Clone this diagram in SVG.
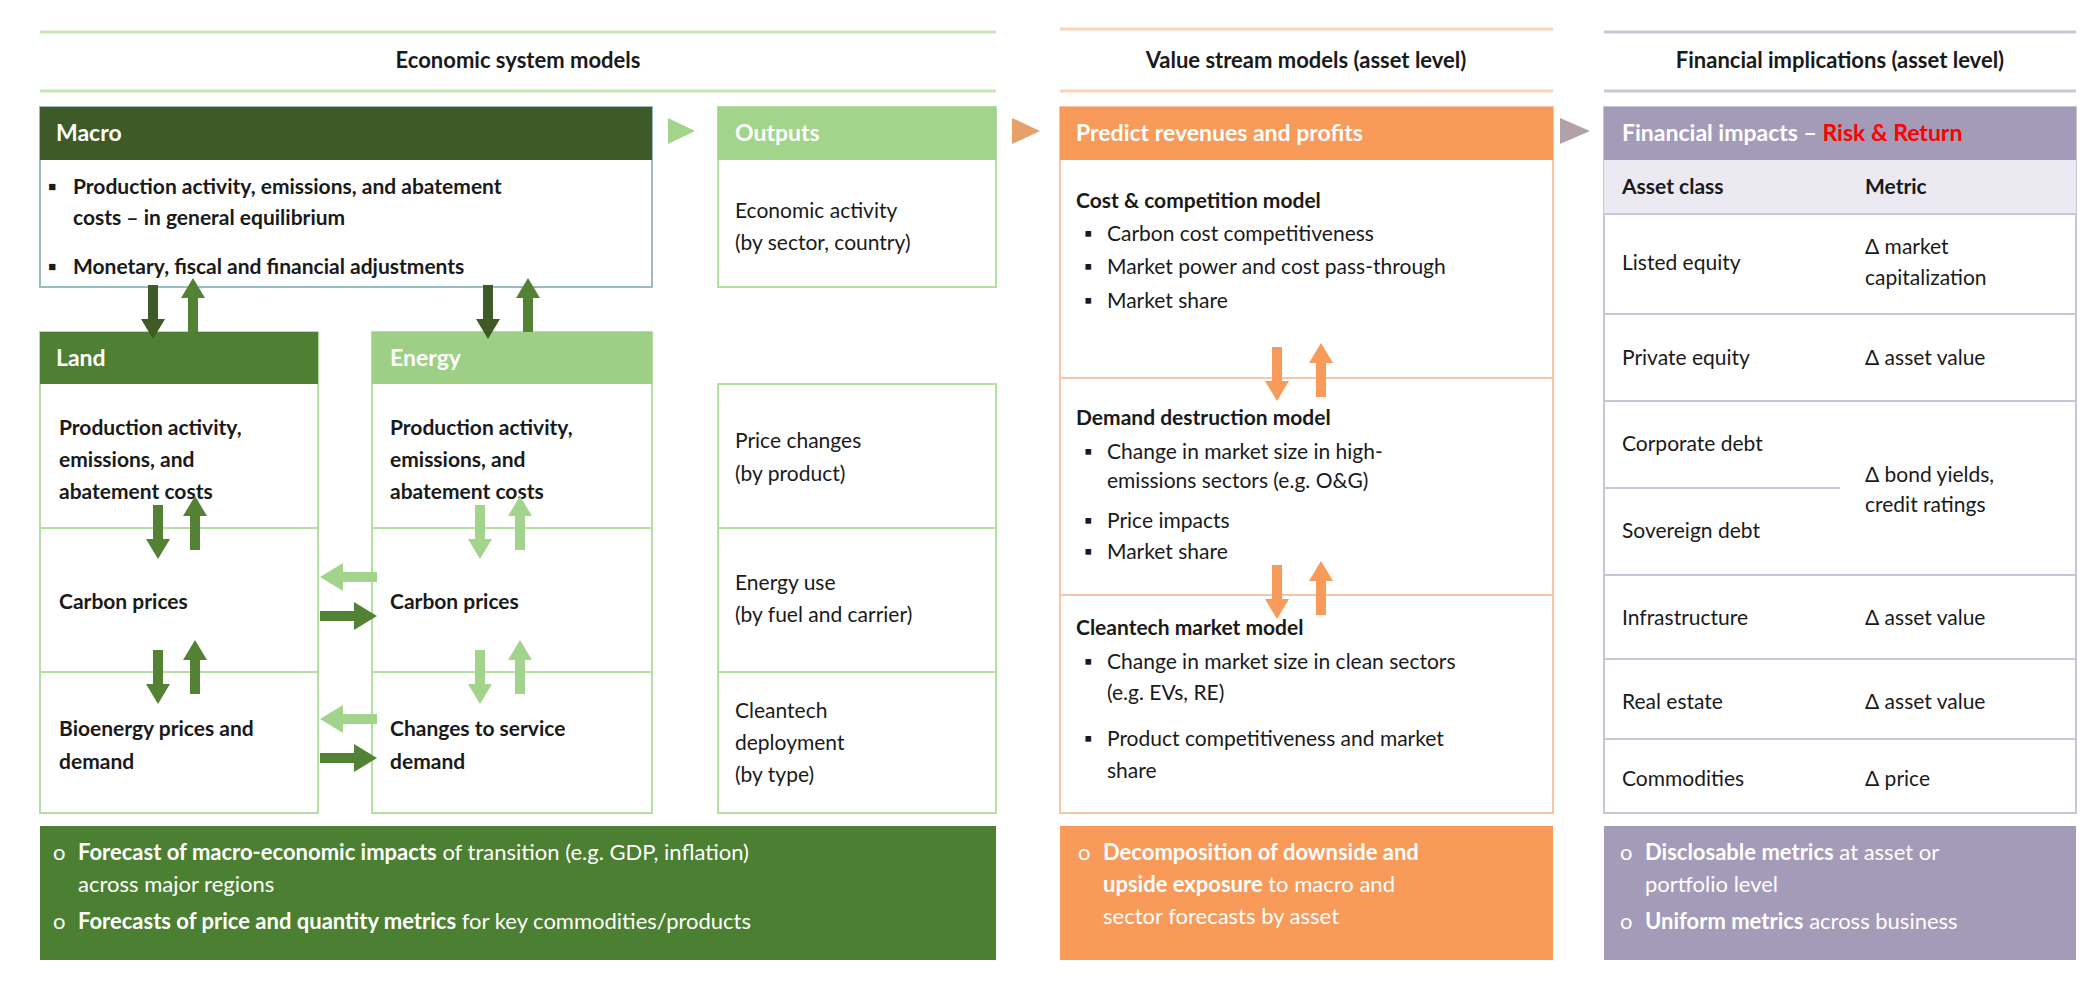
<svg xmlns="http://www.w3.org/2000/svg" width="2097" height="996" viewBox="0 0 2097 996">
<style>
text{font-family:Lato,"Open Sans",sans-serif;font-size:21px;fill:#1a1a1a}
.b{font-weight:bold}
.h{font-weight:bold;font-size:23px;fill:#fff}
.t{font-weight:bold;font-size:22px}
.w{fill:#fff;font-size:22px}
.lg{fill:none;stroke:#b5dea3;stroke-width:2}
.lo{fill:none;stroke:#f9c6a5;stroke-width:2}
.lp{fill:none;stroke:#c9c5d8;stroke-width:2}
</style>
<defs>
<path id="ad" d="M-5,0 H5 V34 H12 L0,54 L-12,34 H-5 Z"/>
<path id="au" d="M-5,54 H5 V20 H12 L0,0 L-12,20 H-5 Z"/>
<path id="ar" d="M0,-5 V5 H34 V14 L57,0 L34,-14 V-5 Z"/>
<path id="al" d="M57,-5 V5 H23 V14 L0,0 L23,-14 V-5 Z"/>
</defs>
<rect width="2097" height="996" fill="#fff"/>
<g id="headers">
<line x1="40" y1="32" x2="996" y2="32" stroke="#c5e6b6" stroke-width="3"/>
<line x1="40" y1="91" x2="996" y2="91" stroke="#c5e6b6" stroke-width="3"/>
<text x="518" y="68" class="t" text-anchor="middle">Economic system models</text>
<line x1="1060" y1="29" x2="1553" y2="29" stroke="#fbd3b8" stroke-width="3"/>
<line x1="1060" y1="91" x2="1553" y2="91" stroke="#fbd3b8" stroke-width="3"/>
<text x="1306" y="68" class="t" text-anchor="middle">Value stream models (asset level)</text>
<line x1="1604" y1="32" x2="2076" y2="32" stroke="#cbc7da" stroke-width="3"/>
<line x1="1604" y1="91" x2="2076" y2="91" stroke="#cbc7da" stroke-width="3"/>
<text x="1840" y="68" class="t" text-anchor="middle">Financial implications (asset level)</text>
</g>
<g id="macro">
<rect x="40" y="107" width="612" height="180" fill="#fff" stroke="#9bbcbf" stroke-width="2"/>
<rect x="40" y="107" width="612" height="53" fill="#3d5a27"/>
<text x="56" y="141" class="h">Macro</text>
<text x="48" y="194" class="b" font-size="15">▪</text>
<text x="73" y="194" class="b">Production activity, emissions, and abatement</text>
<text x="73" y="225" class="b">costs – in general equilibrium</text>
<text x="48" y="274" class="b" font-size="15">▪</text>
<text x="73" y="274" class="b">Monetary, fiscal and financial adjustments</text>
</g>
<g id="outputs">
<rect x="718" y="107" width="278" height="180" class="lg"/>
<rect x="718" y="107" width="278" height="53" fill="#a3d48c"/>
<text x="735" y="141" class="h">Outputs</text>
<text x="735" y="218">Economic activity</text>
<text x="735" y="250">(by sector, country)</text>
<rect x="718" y="384" width="278" height="429" class="lg"/>
<line x1="718" y1="528" x2="996" y2="528" class="lg"/>
<line x1="718" y1="672" x2="996" y2="672" class="lg"/>
<text x="735" y="448">Price changes</text>
<text x="735" y="481">(by product)</text>
<text x="735" y="590">Energy use</text>
<text x="735" y="622">(by fuel and carrier)</text>
<text x="735" y="718">Cleantech</text>
<text x="735" y="750">deployment</text>
<text x="735" y="782">(by type)</text>
</g>
<g id="land">
<rect x="40" y="332" width="278" height="481" class="lg"/>
<rect x="40" y="332" width="278" height="52" fill="#4f7f32"/>
<text x="56" y="366" class="h">Land</text>
<line x1="40" y1="528" x2="318" y2="528" class="lg"/>
<line x1="40" y1="672" x2="318" y2="672" class="lg"/>
<text x="59" y="435" class="b">Production activity,</text>
<text x="59" y="467" class="b">emissions, and</text>
<text x="59" y="499" class="b">abatement costs</text>
<text x="59" y="609" class="b">Carbon prices</text>
<text x="59" y="736" class="b">Bioenergy prices and</text>
<text x="59" y="769" class="b">demand</text>
</g>
<g id="energy">
<rect x="372" y="332" width="280" height="481" class="lg"/>
<rect x="372" y="332" width="280" height="52" fill="#9dcf87"/>
<text x="390" y="366" class="h">Energy</text>
<line x1="372" y1="528" x2="652" y2="528" class="lg"/>
<line x1="372" y1="672" x2="652" y2="672" class="lg"/>
<text x="390" y="435" class="b">Production activity,</text>
<text x="390" y="467" class="b">emissions, and</text>
<text x="390" y="499" class="b">abatement costs</text>
<text x="390" y="609" class="b">Carbon prices</text>
<text x="390" y="736" class="b">Changes to service</text>
<text x="390" y="769" class="b">demand</text>
</g>
<g id="econ-summary">
<rect x="40" y="826" width="956" height="134" fill="#4b7f31"/>
<text x="53" y="860" class="w">o</text>
<text x="78" y="860" class="w"><tspan font-weight="bold">Forecast of macro-economic impacts</tspan> of transition (e.g. GDP, inflation)</text>
<text x="78" y="892" class="w">across major regions</text>
<text x="53" y="929" class="w">o</text>
<text x="78" y="929" class="w"><tspan font-weight="bold">Forecasts of price and quantity metrics</tspan> for key commodities/products</text>
</g>
<g id="value-stream">
<rect x="1060" y="107" width="493" height="706" class="lo"/>
<rect x="1060" y="107" width="493" height="53" fill="#f79a5a"/>
<text x="1076" y="141" class="h">Predict revenues and profits</text>
<line x1="1060" y1="378" x2="1553" y2="378" class="lo"/>
<line x1="1060" y1="595" x2="1553" y2="595" class="lo"/>
<text x="1076" y="208" class="b">Cost &amp; competition model</text>
<text x="1084" y="241">▪</text><text x="1107" y="241">Carbon cost competitiveness</text>
<text x="1084" y="274">▪</text><text x="1107" y="274">Market power and cost pass-through</text>
<text x="1084" y="308">▪</text><text x="1107" y="308">Market share</text>
<text x="1076" y="425" class="b">Demand destruction model</text>
<text x="1084" y="459">▪</text><text x="1107" y="459">Change in market size in high-</text>
<text x="1107" y="488">emissions sectors (e.g. O&amp;G)</text>
<text x="1084" y="528">▪</text><text x="1107" y="528">Price impacts</text>
<text x="1084" y="559">▪</text><text x="1107" y="559">Market share</text>
<text x="1076" y="635" class="b">Cleantech market model</text>
<text x="1084" y="669">▪</text><text x="1107" y="669">Change in market size in clean sectors</text>
<text x="1107" y="700">(e.g. EVs, RE)</text>
<text x="1084" y="746">▪</text><text x="1107" y="746">Product competitiveness and market</text>
<text x="1107" y="778">share</text>
</g>
<g id="value-summary">
<rect x="1060" y="826" width="493" height="134" fill="#f79a5a"/>
<text x="1078" y="860" class="w">o</text>
<text x="1103" y="860" class="w" font-weight="bold">Decomposition of downside and</text>
<text x="1103" y="892" class="w"><tspan font-weight="bold">upside exposure</tspan> to macro and</text>
<text x="1103" y="924" class="w">sector forecasts by asset</text>
</g>
<g id="financial">
<rect x="1604" y="107" width="472" height="706" class="lp"/>
<rect x="1604" y="107" width="472" height="53" fill="#a49bb8"/>
<text x="1622" y="141" class="h">Financial impacts – <tspan fill="#ff0000">Risk &amp; Return</tspan></text>
<rect x="1604" y="160" width="472" height="54" fill="#ebe9f1"/>
<text x="1622" y="194" class="b">Asset class</text>
<text x="1865" y="194" class="b">Metric</text>
<line x1="1604" y1="214" x2="2076" y2="214" class="lp"/>
<line x1="1604" y1="314" x2="2076" y2="314" class="lp"/>
<line x1="1604" y1="401" x2="2076" y2="401" class="lp"/>
<line x1="1604" y1="488" x2="1840" y2="488" class="lp"/>
<line x1="1604" y1="575" x2="2076" y2="575" class="lp"/>
<line x1="1604" y1="659" x2="2076" y2="659" class="lp"/>
<line x1="1604" y1="739" x2="2076" y2="739" class="lp"/>
<text x="1622" y="270">Listed equity</text>
<text x="1865" y="254">Δ market</text>
<text x="1865" y="285">capitalization</text>
<text x="1622" y="365">Private equity</text>
<text x="1865" y="365">Δ asset value</text>
<text x="1622" y="451">Corporate debt</text>
<text x="1622" y="538">Sovereign debt</text>
<text x="1865" y="482">Δ bond yields,</text>
<text x="1865" y="512">credit ratings</text>
<text x="1622" y="625">Infrastructure</text>
<text x="1865" y="625">Δ asset value</text>
<text x="1622" y="709">Real estate</text>
<text x="1865" y="709">Δ asset value</text>
<text x="1622" y="786">Commodities</text>
<text x="1865" y="786">Δ price</text>
</g>
<g id="financial-summary">
<rect x="1604" y="826" width="472" height="134" fill="#a49bb8"/>
<text x="1620" y="860" class="w">o</text>
<text x="1645" y="860" class="w"><tspan font-weight="bold">Disclosable metrics</tspan> at asset or</text>
<text x="1645" y="892" class="w">portfolio level</text>
<text x="1620" y="929" class="w">o</text>
<text x="1645" y="929" class="w"><tspan font-weight="bold">Uniform metrics</tspan> across business</text>
</g>
<g id="connectors">
<path d="M668,118 L695,131 L668,144 Z" fill="#a3d48c"/>
<path d="M1012,118 L1040,131 L1012,144 Z" fill="#e8a06a"/>
<path d="M1560,118 L1590,131 L1560,144 Z" fill="#b0a2a8"/>
<use href="#ad" x="153" y="285" fill="#3d5a27"/>
<use href="#au" x="193" y="278" fill="#548235"/>
<use href="#ad" x="488" y="285" fill="#3d5a27"/>
<use href="#au" x="528" y="278" fill="#548235"/>
<use href="#ad" x="158" y="505" fill="#548235"/>
<use href="#au" x="195" y="496" fill="#548235"/>
<use href="#ad" x="158" y="650" fill="#548235"/>
<use href="#au" x="195" y="640" fill="#548235"/>
<use href="#ad" x="480" y="505" fill="#a3d48c"/>
<use href="#au" x="520" y="496" fill="#a3d48c"/>
<use href="#ad" x="480" y="650" fill="#a3d48c"/>
<use href="#au" x="520" y="640" fill="#a3d48c"/>
<use href="#al" x="320" y="577" fill="#a3d48c"/>
<use href="#ar" x="320" y="616" fill="#548235"/>
<use href="#al" x="320" y="719" fill="#a3d48c"/>
<use href="#ar" x="320" y="758" fill="#548235"/>
<use href="#ad" x="1277" y="347" fill="#f79a5a"/>
<use href="#au" x="1321" y="343" fill="#f79a5a"/>
<use href="#ad" x="1277" y="565" fill="#f79a5a"/>
<use href="#au" x="1321" y="561" fill="#f79a5a"/>
</g>
</svg>
